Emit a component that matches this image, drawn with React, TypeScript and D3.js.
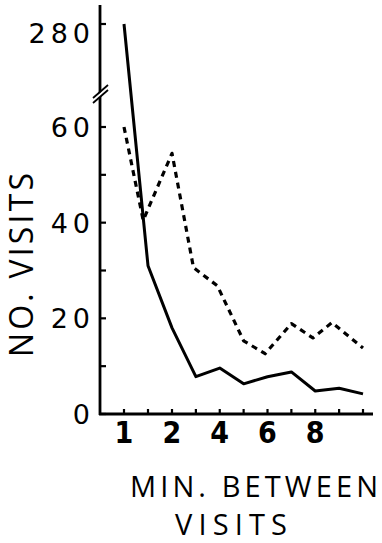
import React from "react";
import * as d3 from "d3";

// Minutes between visits (x) and number of visits (y)
const solidMinutes = [1, 1.5, 2, 3, 4, 5, 6, 7, 8, 9, 10];
const solidVisits = [280, 31, 18, 7.8, 9.6, 6.3, 7.8, 8.8, 4.8, 5.4, 4.2];

const dashedMinutes = [1, 1.4, 2, 2.9, 3.9, 5, 5.9, 7, 7.9, 8.7, 10];
const dashedVisits = [60, 40.5, 54.5, 30.6, 26.8, 15.3, 12.6, 18.9, 15.9, 19.1, 13.8];

const xTickValues = [1, 1.5, 2, 3, 4, 5, 6, 7, 8, 9, 10];
const xTickLabels = [1, 2, 4, 6, 8];
const yLowerTicks = [0, 10, 20, 30, 40, 50, 60];
const yLowerLabels = [0, 20, 40, 60];
const yUpperTicks = [280];
const yUpperLabels = [280];

const W = 382;
const H = 543;

// Scales
const x = d3.scaleLinear().domain([1, 2, 10]).range([124, 172, 363]);
const yLower = d3.scaleLinear().domain([0, 60]).range([414, 127]);
const yUpper = d3.scaleLinear().domain([280, 284]).range([24, 5]);
const BREAK_LOW = 200; // values above this are on the upper (broken) segment

const yOf = (v: number) => (v > BREAK_LOW ? yUpper(v) : yLower(v));

export default function App() {
  const line = d3
    .line<[number, number]>()
    .x((d) => x(d[0]))
    .y((d) => yOf(d[1]));

  const solidPts: [number, number][] = solidMinutes.map((m, i) => [m, solidVisits[i]]);
  const dashedPts: [number, number][] = dashedMinutes.map((m, i) => [m, dashedVisits[i]]);

  const axisX = 100;
  const axisY = yLower(0);
  const axisTop = yUpper(284);
  const axisRight = 373;
  const breakY = 95;

  const tickFont = "'DejaVu Sans', sans-serif";
  const titleFont = "'Open Sans', 'DejaVu Sans', sans-serif";
  const xTickFont = "'Liberation Sans Narrow', 'DejaVu Sans Condensed', sans-serif";

  return (
    <svg
      width={W}
      height={H}
      viewBox={`0 0 ${W} ${H}`}
      style={{ position: "absolute", left: 0, top: 0, background: "#fff" }}
    >
      <rect x={0} y={0} width={W} height={H} fill="#fff" />

      {/* Data lines */}
      <path d={line(solidPts) || ""} fill="none" stroke="#000" strokeWidth={3} strokeLinejoin="round" />
      <path
        d={line(dashedPts) || ""}
        fill="none"
        stroke="#000"
        strokeWidth={3.2}
        strokeDasharray="6 5"
        strokeLinejoin="round"
      />

      {/* Y axis */}
      <line x1={axisX} x2={axisX} y1={axisTop} y2={axisY + 1} stroke="#000" strokeWidth={2.8} />
      {/* X axis */}
      <line x1={axisX - 1} x2={axisRight} y1={axisY} y2={axisY} stroke="#000" strokeWidth={2.8} />

      {/* Axis break */}
      <polygon
        points={`${axisX - 6},${breakY + 7} ${axisX + 8},${breakY - 5} ${axisX + 8},${breakY - 9} ${axisX - 6},${breakY + 3}`}
        fill="#fff"
      />
      <line x1={axisX - 7} y1={breakY + 8} x2={axisX + 8} y2={breakY - 5} stroke="#000" strokeWidth={1.8} />
      <line x1={axisX - 7} y1={breakY + 3} x2={axisX + 8} y2={breakY - 10} stroke="#000" strokeWidth={1.8} />

      {/* Y ticks */}
      {yLowerTicks.map((t) => (
        <line key={"yl" + t} x1={axisX} x2={axisX + 6} y1={yLower(t)} y2={yLower(t)} stroke="#000" strokeWidth={2.2} />
      ))}
      {yUpperTicks.map((t) => (
        <line key={"yu" + t} x1={axisX} x2={axisX + 6} y1={yUpper(t)} y2={yUpper(t)} stroke="#000" strokeWidth={2.2} />
      ))}

      {/* Y tick labels */}
      {yLowerLabels.map((t) => (
        <text
          key={"yll" + t}
          x={95}
          y={yLower(t) + 10}
          textAnchor="end"
          fontFamily={tickFont}
          fontSize={27}
          letterSpacing={5}
          fill="#000"
        >
          {t}
        </text>
      ))}
      {yUpperLabels.map((t) => (
        <text
          key={"yul" + t}
          x={95}
          y={yUpper(t) + 19}
          textAnchor="end"
          fontFamily={tickFont}
          fontSize={27}
          letterSpacing={5}
          fill="#000"
        >
          {t}
        </text>
      ))}

      {/* X ticks */}
      {xTickValues.map((t) => (
        <line key={"xt" + t} x1={x(t)} x2={x(t)} y1={axisY} y2={axisY - 5} stroke="#000" strokeWidth={2.2} />
      ))}

      {/* X tick labels */}
      {xTickLabels.map((t) => (
        <text
          key={"xl" + t}
          x={x(t)}
          y={443}
          textAnchor="middle"
          fontFamily={xTickFont}
          fontWeight="bold"
          fontSize={30}
          fill="#000"
        >
          {t}
        </text>
      ))}

      {/* Y axis title */}
      <text
        transform="translate(33,265) rotate(-90)"
        textAnchor="middle"
        fontFamily={titleFont}
        fontWeight={400}
        fontSize={32}
        textLength={184}
        lengthAdjust="spacing"
        fill="#000"
      >
        NO. VISITS
      </text>

      {/* X axis title */}
      <text
        x={130}
        y={497}
        fontFamily={titleFont}
        fontWeight={400}
        fontSize={29}
        textLength={248}
        lengthAdjust="spacing"
        fill="#000"
      >
        MIN. BETWEEN
      </text>
      <text
        x={175}
        y={535}
        fontFamily={titleFont}
        fontWeight={400}
        fontSize={29}
        textLength={112}
        lengthAdjust="spacing"
        fill="#000"
      >
        VISITS
      </text>
    </svg>
  );
}
